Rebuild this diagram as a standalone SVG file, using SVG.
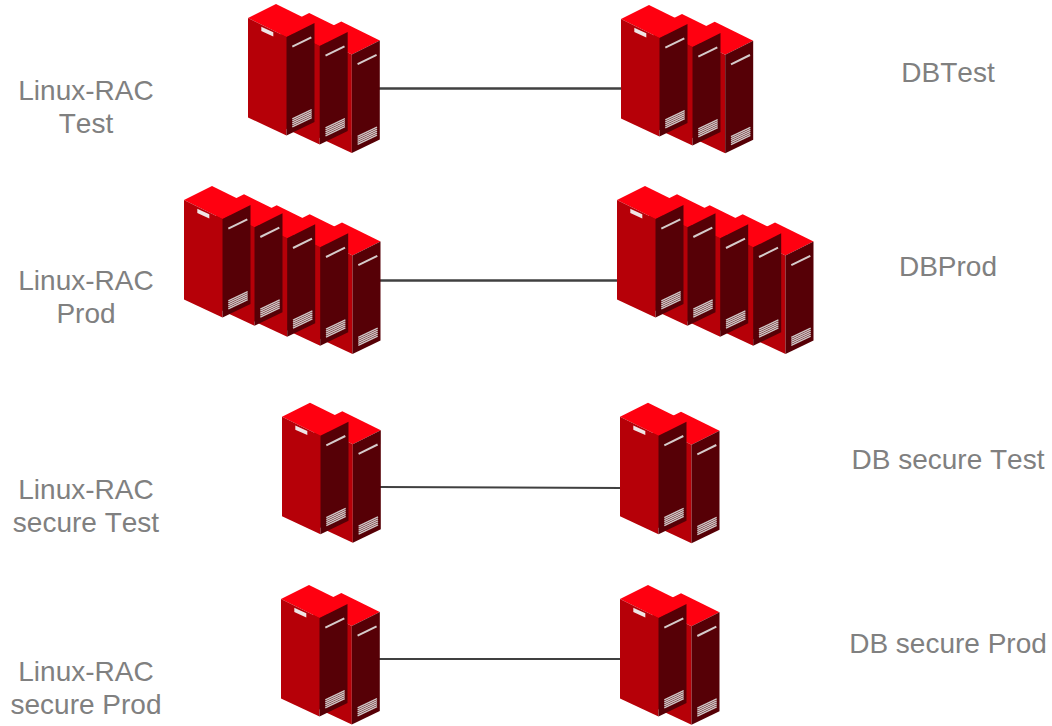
<svg xmlns="http://www.w3.org/2000/svg" width="1052" height="726" viewBox="0 0 1052 726">
<style>
.lbl{font-family:"Liberation Sans",Arial,sans-serif;font-size:28px;fill:#808080;text-anchor:middle;font-kerning:none}
.top{fill:#ff0010}.front{fill:#b60008}.side{fill:#560006}
.bar{stroke:#d6cccc;stroke-width:2;fill:none}
.vent{stroke:#d0c8c8;stroke-width:1.4;fill:none}
.conn{stroke:#404040;fill:none}
</style>
<defs>
<g id="srv">
<polygon class="top" points="0,0 28,-14 66.5,5 38.5,19"/>
<polygon class="front" points="0,0 38.5,19 38.5,117.5 0,99.5"/>
<polygon class="side" points="38.5,19 66.5,5 66.5,104 38.5,117.5"/>
<polygon fill="#f0e6e6" points="13.3,8.7 25.3,14.2 25.3,18.4 13.3,13"/>
<line class="bar" x1="44.3" y1="28.7" x2="63.3" y2="19.3"/>
<g class="vent">
<line x1="44.3" y1="100.9" x2="63.7" y2="91.6"/>
<line x1="44.3" y1="102.9" x2="63.7" y2="93.6"/>
<line x1="44.3" y1="104.9" x2="63.7" y2="95.6"/>
<line x1="44.3" y1="106.9" x2="63.7" y2="97.6"/>
<line x1="44.3" y1="108.9" x2="63.7" y2="99.6"/>
</g>
</g>
</defs>
<g id="connectors">
<line class="conn" stroke-width="2.5" x1="378" y1="88.5" x2="622" y2="88.5"/>
<line class="conn" stroke-width="2.5" x1="378" y1="280.5" x2="619" y2="280.5"/>
<line class="conn" stroke-width="2" x1="379" y1="487" x2="622" y2="488"/>
<line class="conn" stroke-width="2" x1="378" y1="659" x2="622" y2="659"/>
</g>
<g id="linux-rac-test">
<use href="#srv" x="313.3" y="35.5"/><use href="#srv" x="281.2" y="27"/><use href="#srv" x="248" y="18"/>
</g>
<g id="dbtest">
<use href="#srv" x="686.7" y="35.7"/><use href="#srv" x="654" y="28"/><use href="#srv" x="621" y="19"/>
</g>
<g id="linux-rac-prod">
<use href="#srv" x="314" y="236.5"/><use href="#srv" x="281.7" y="228.3"/><use href="#srv" x="248.7" y="219.3"/><use href="#srv" x="216" y="208.3"/><use href="#srv" x="184" y="200"/>
</g>
<g id="dbprod">
<use href="#srv" x="747" y="236.5"/><use href="#srv" x="714.7" y="228.3"/><use href="#srv" x="681.7" y="219.3"/><use href="#srv" x="649" y="208.3"/><use href="#srv" x="617" y="200"/>
</g>
<g id="linux-rac-secure-test">
<use href="#srv" x="314.3" y="425.2"/><use href="#srv" x="282" y="416.7"/>
</g>
<g id="db-secure-test">
<use href="#srv" x="653" y="425.7"/><use href="#srv" x="620" y="416.7"/>
</g>
<g id="linux-rac-secure-prod">
<use href="#srv" x="313.3" y="607"/><use href="#srv" x="281" y="599"/>
</g>
<g id="db-secure-prod">
<use href="#srv" x="653" y="607.3"/><use href="#srv" x="620" y="599"/>
</g>
<g id="labels">
<text class="lbl" x="86" y="100">Linux-RAC</text>
<text class="lbl" x="86" y="133">Test</text>
<text class="lbl" x="86" y="290">Linux-RAC</text>
<text class="lbl" x="86" y="323">Prod</text>
<text class="lbl" x="86" y="499">Linux-RAC</text>
<text class="lbl" x="86" y="532">secure Test</text>
<text class="lbl" x="86" y="681">Linux-RAC</text>
<text class="lbl" x="86" y="714">secure Prod</text>
<text class="lbl" x="948" y="82">DBTest</text>
<text class="lbl" x="948" y="276">DBProd</text>
<text class="lbl" x="948" y="469">DB secure Test</text>
<text class="lbl" x="948" y="653">DB secure Prod</text>
</g>
</svg>
